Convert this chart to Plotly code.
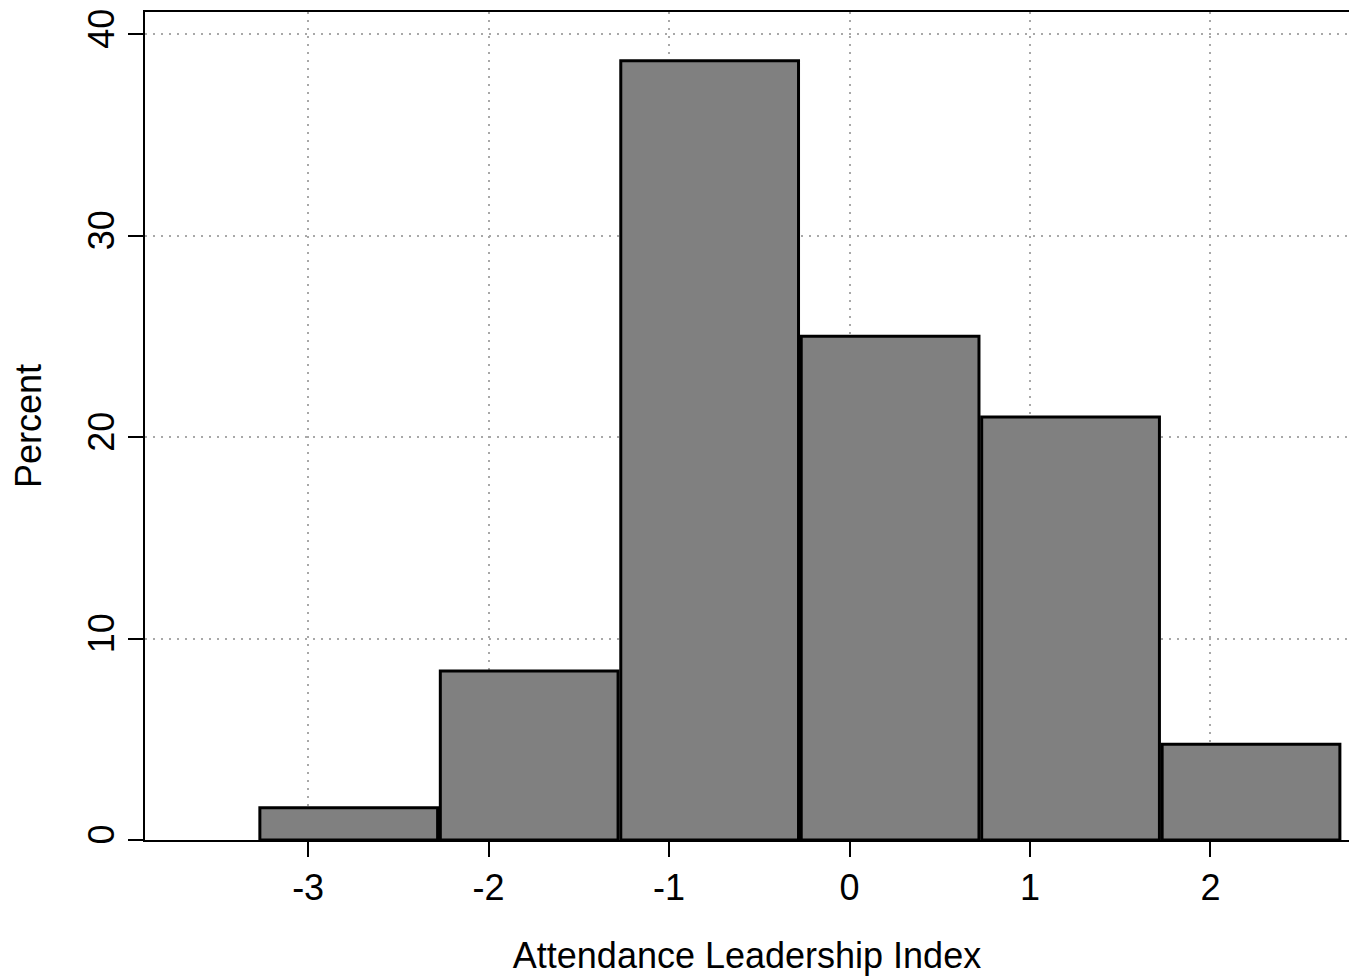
import plotly.graph_objects as go

bin_centers = [-2.775, -1.775, -0.775, 0.225, 1.225, 2.225]
percent = [1.6, 8.39, 38.68, 25.0, 21.0, 4.75]
bin_width = 0.985
x_ticks = [-3, -2, -1, 0, 1, 2]
y_ticks = [0, 10, 20, 30, 40]

FONT = "Liberation Sans, Arial, sans-serif"
FS = 36

fig = go.Figure()
fig.add_trace(go.Bar(
    x=bin_centers, y=percent, width=[bin_width] * len(bin_centers),
    marker=dict(color="#808080", line=dict(color="black", width=3)),
    hoverinfo="x+y",
))

grid = dict(showgrid=True, gridcolor="#a8a8a8", gridwidth=1.5, griddash="1.5px,6.5px")

fig.update_layout(
    width=1349, height=976,
    margin=dict(l=145, r=0, t=12, b=136),
    paper_bgcolor="white", plot_bgcolor="white",
    showlegend=False,
    font=dict(family=FONT, size=FS, color="black"),
    xaxis=dict(
        range=[-3.904, 2.768], tickvals=x_ticks, ticktext=[str(v) for v in x_ticks],
        showline=True, linecolor="black", linewidth=2, mirror=True,
        ticks="outside", ticklen=15, tickwidth=2, tickcolor="black",
        zeroline=False,
        title=dict(text="Attendance Leadership Index", standoff=36, font=dict(size=FS)),
        tickfont=dict(size=FS),
        **grid,
    ),
    yaxis=dict(
        range=[0, 41.1], tickvals=y_ticks, ticktext=[str(v) for v in y_ticks],
        showline=True, linecolor="black", linewidth=2,
        ticks="outside", ticklen=15, tickwidth=2, tickcolor="black",
        zeroline=False, tickangle=-90,
        title=dict(text="Percent", standoff=28, font=dict(size=FS)),
        tickfont=dict(size=FS),
        **grid,
    ),
)

fig.write_html("out.html", config={"displayModeBar": False},
               post_script="document.body.style.margin='0';document.body.style.overflow='hidden';")
